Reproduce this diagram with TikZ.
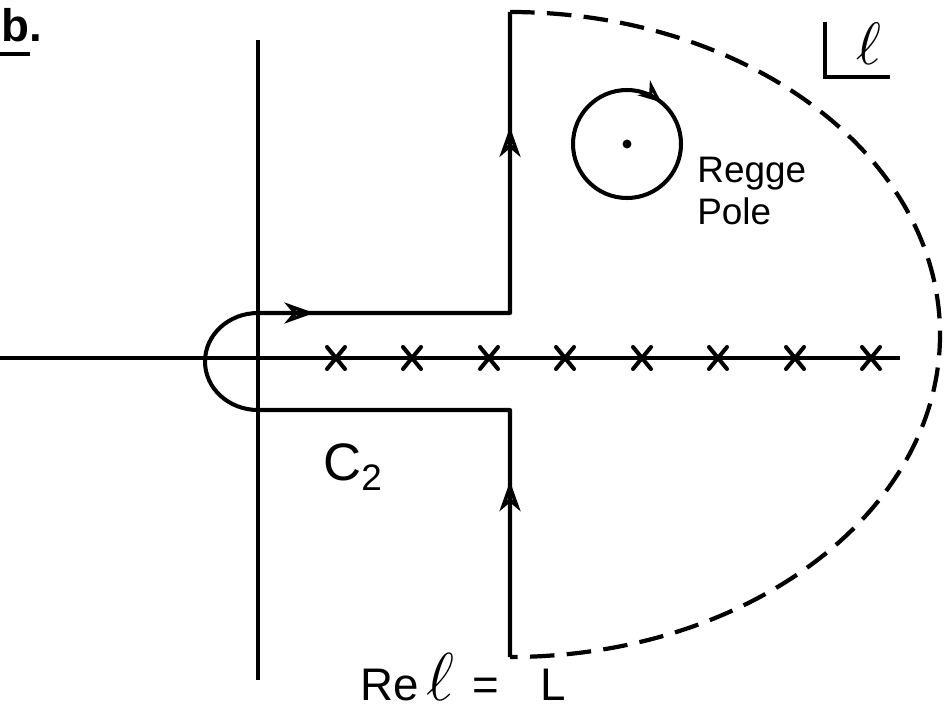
\documentclass[tikz,border=0pt]{standalone}
\usepackage{graphicx}
\usepackage{fontspec}
\setmainfont{Liberation Sans}
\usetikzlibrary{arrows.meta, decorations.markings, calc}

\begin{document}
\begin{tikzpicture}[x=0.02cm, y=-0.02cm,
    axisline/.style={line width=2.1pt, black},
    contour/.style={line width=2.3pt, black, line join=round},
    halfloop/.style={line width=2.4pt, black, dash pattern=on 14pt off 7pt},
    flowmarks/.style={postaction={decorate}, decoration={markings,
      mark=at position 0.145 with {\arrow{Stealth[open, length=17pt, width=12pt, inset=5pt, line width=2pt]}},
      mark=at position 0.59 with {\arrow{Stealth[open, length=17pt, width=12pt, inset=5pt, line width=2pt]}},
      mark=at position 0.905 with {\arrow{Stealth[open, length=17pt, width=12pt, inset=5pt, line width=2pt]}}}},
    polemark/.style={postaction={decorate}, decoration={markings,
      mark=at position 0.86 with {\arrow{Stealth[open, length=13pt, width=11pt, inset=4pt, line width=1.8pt]}}}},
    crossmark/.style={line width=2.3pt, line cap=round},
    lbl/.style={font=\fontsize{21}{24}\selectfont, inner sep=0pt, align=left}
  ]
  \useasboundingbox (0,0) rectangle (945,713);

  % axes
  \coordinate (xl) at (0,358);
  \coordinate (xr) at (900,358);
  \coordinate (yt) at (258,40);
  \coordinate (yb) at (258,680);
  \draw[axisline] (xl) -- (xr);
  \draw[axisline] (yt) -- (yb);

  % poles on the real axis
  \foreach \px in {336,412,489,565,642,718,795,871}
    \draw[crossmark] (\px-9,347) -- (\px+9,369) (\px-9,369) -- (\px+9,347);

  % contour C2
  \coordinate (cbot) at (510,657);
  \coordinate (clow) at (510,410);
  \coordinate (cup) at (510,313);
  \coordinate (ctop) at (510,12);
  \draw[contour, flowmarks] (cbot) -- (clow) -- (258,410)
    arc[start angle=90, end angle=270, x radius=53, y radius=48.5]
    -- (cup) -- (ctop);
  \draw[halfloop] (ctop) arc[start angle=-90, end angle=90, x radius=430, y radius=322.5];

  % Regge pole
  \node[circle, fill, inner sep=1.8pt] (pole) at (627,144) {};
  \draw[contour, polemark] (pole) circle[radius=54];
  \node[lbl, anchor=north west] (regge) at (697,157) {Regge\\Pole};

  % labels
  \node[font=\fontsize{26}{30}\selectfont\bfseries, inner sep=0pt, anchor=base west] (part) at (1,42) {b.};
  \coordinate (ulA) at (0,54);
  \coordinate (ulB) at (30,54);
  \draw[line width=2pt] (ulA) -- (ulB);

  \coordinate (cornerT) at (825,22);
  \coordinate (cornerC) at (825,77);
  \coordinate (cornerR) at (890,77);
  \draw[line width=2.3pt] (cornerT) -- (cornerC) -- (cornerR);
  \node[inner sep=0pt] (ell) at (869,44) {\scalebox{3.4}{$\ell$}};

  \node[font=\fontsize{30}{34}\selectfont, inner sep=0pt, anchor=base west] (ctwo) at (323,480) {C\textsubscript{2}};
  \node[font=\fontsize{26}{30}\selectfont, inner sep=0pt, anchor=base west] (reline) at (360,700)
    {Re\,\scalebox{1.55}{$\ell$}\hspace{0.4em}=\hspace{0.9em}L};
\end{tikzpicture}
\end{document}
